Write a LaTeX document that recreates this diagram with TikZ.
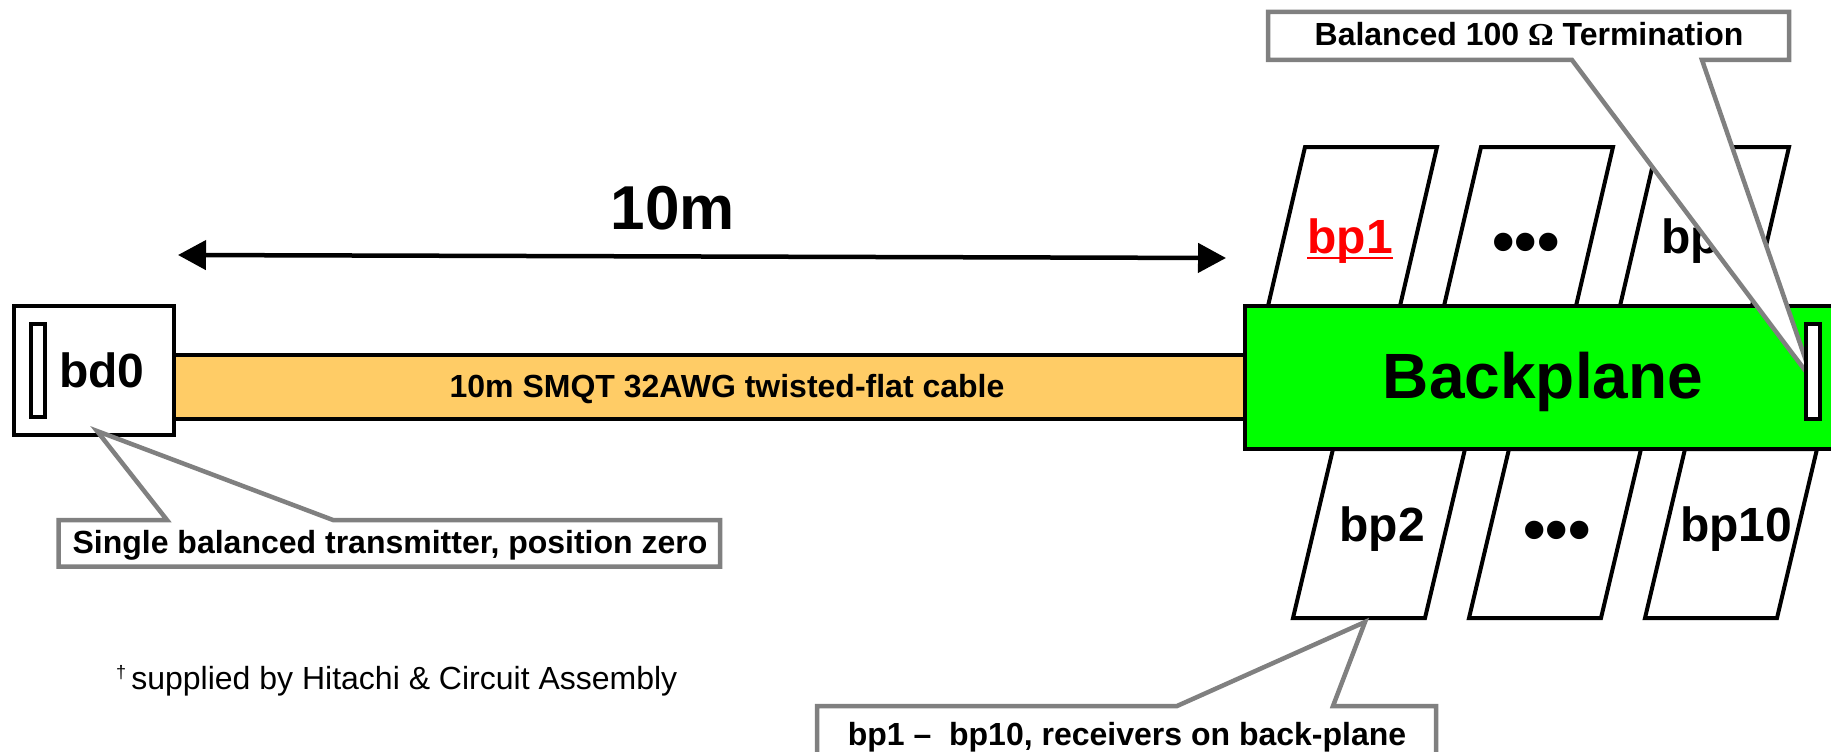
\documentclass[tikz,border=0pt]{standalone}
\usepackage{fontspec}
\setmainfont{Liberation Sans}
\newfontfamily\omegafont{Liberation Serif}
\usetikzlibrary{arrows.meta,calc}
\definecolor{cableorange}{HTML}{FFCC66}
\definecolor{bpgreen}{HTML}{00FF00}
\definecolor{callgray}{HTML}{808080}
\tikzset{
  blk/.style={draw=black, line width=4pt, line join=miter},
  callout/.style={draw=callgray, fill=white, line width=4.5pt, line join=miter},
  lbl/.style={inner sep=0pt, outer sep=0pt},
  bigbold/.style={lbl, font=\fontsize{48}{56}\selectfont\bfseries},
  callbold/.style={lbl, font=\fontsize{32}{38}\selectfont\bfseries},
  dotsbold/.style={lbl, font=\fontsize{64}{70}\selectfont\bfseries},
}
\begin{document}
\begin{tikzpicture}[x=1pt,y=-1pt]
\clip (0,0) rectangle (1831,752);
\fill[white] (0,0) rectangle (1831,752);

% cable
\draw[blk, fill=cableorange] (174,354.5) rectangle (1245,418.5);
\node[lbl, font=\fontsize{32}{38}\selectfont\bfseries, anchor=base] (cablelbl) at (727,397) {10m SMQT 32AWG twisted-flat cable};

% bd0 box
\draw[blk, fill=white] (14,306) rectangle (174,435);
\draw[blk, fill=white] (31,324) rectangle (45,417);
\node[bigbold, anchor=base west] (bd0) at (59,387) {bd0};

% top row receivers
\draw[blk, fill=white] (1305,147) -- (1437,147) -- (1400,306) -- (1268,306) -- cycle;
\draw[blk, fill=white] (1481,147) -- (1613,147) -- (1576,306) -- (1444,306) -- cycle;
\draw[blk, fill=white] (1657,147) -- (1789,147) -- (1752,306) -- (1620,306) -- cycle;
\node[bigbold, text=red, anchor=base] (bp1) at (1350,253) {bp1};
\draw[red, line width=2.5pt] ($(bp1.base west)+(0,5)$) -- ($(bp1.base east)+(0,5)$);
\node[dotsbold, anchor=base] (dotsA) at (1526,263) {•••};
\node[bigbold, anchor=base west] (bpX) at (1661,253) {bp};

% bottom row receivers
\draw[blk, fill=white] (1333,449) -- (1465,449) -- (1425,618) -- (1293,618) -- cycle;
\draw[blk, fill=white] (1509,449) -- (1641,449) -- (1601,618) -- (1469,618) -- cycle;
\draw[blk, fill=white] (1685,449) -- (1817,449) -- (1777,618) -- (1645,618) -- cycle;
\node[bigbold, anchor=base] (bp2) at (1382,541) {bp2};
\node[dotsbold, anchor=base] (dotsB) at (1557,551) {•••};
\node[bigbold, anchor=base] (bp10) at (1736,541) {bp10};

% backplane
\draw[blk, fill=bpgreen] (1245,306) rectangle (1870,449);
\node[lbl, font=\fontsize{64}{72}\selectfont\bfseries, anchor=base] (bplane) at (1543,398) {Backplane};

% termination callout
\draw[callout] (1268,12) -- (1789,12) -- (1789,60) -- (1702,60) -- (1813,381) -- (1572,60) -- (1268,60) -- cycle;
\node[callbold, anchor=base] (termlbl) at (1529,46) {Balanced 100 {\omegafont Ω} Termination};
\draw[blk, fill=white] (1806,324) rectangle (1820,419);

% transmitter callout
\draw[callout] (58.5,520) -- (167,520) -- (97,431) -- (333,520) -- (720,520) -- (720,566.5) -- (58.5,566.5) -- cycle;
\node[callbold, anchor=base] (txlbl) at (390,553) {Single balanced transmitter, position zero};

% receivers callout
\draw[callout] (817,706) -- (1177,706) -- (1365,622) -- (1333,706) -- (1436,706) -- (1436,790) -- (817,790) -- cycle;
\node[callbold, anchor=base] (rxlbl) at (1127,745) {bp1 --\ \ bp10, receivers on back-plane};

% 10m dimension
\coordinate (aL) at (178,255);
\coordinate (aR) at (1226,258);
\draw[line width=4.5pt, {Triangle[length=28pt,width=29pt]}-{Triangle[length=28pt,width=29pt]}] (aL) -- (aR);
\node[lbl, font=\fontsize{62}{70}\selectfont\bfseries, anchor=base] (len) at (673,229) {10m};

% footnote
\node[lbl, font=\fontsize{32}{38}\selectfont, anchor=base west] (foot) at (116,689) {\raisebox{11pt}{\fontsize{18}{18}\selectfont †}\,supplied by Hitachi \& Circuit Assembly};
\end{tikzpicture}
\end{document}
